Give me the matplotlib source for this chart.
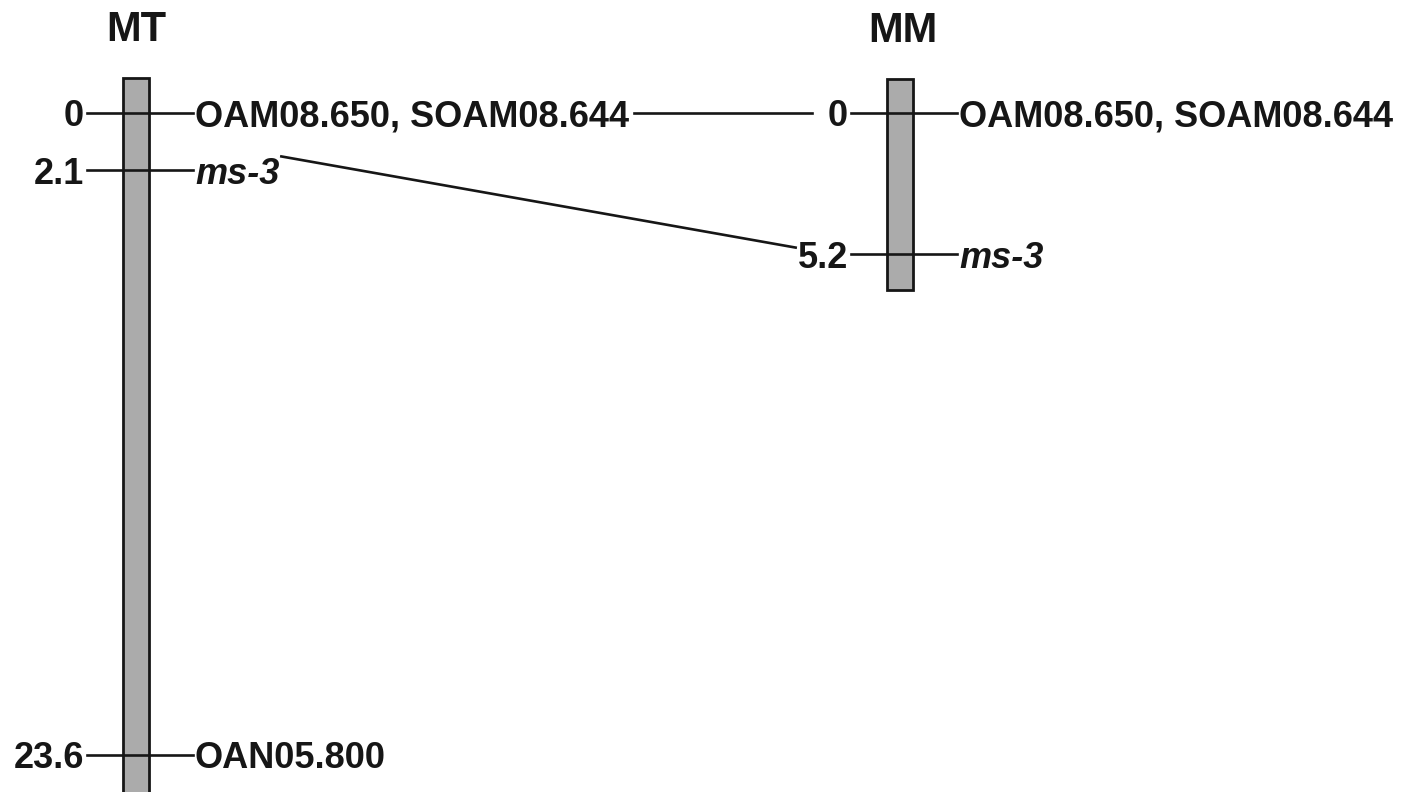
import matplotlib
matplotlib.use("Agg")
import matplotlib.pyplot as plt
from matplotlib.patches import Rectangle

plt.rcParams['font.family'] = ['Liberation Sans', 'DejaVu Sans']

# linkage groups
maps = ['MT', 'MM']
map_x = [136, 900]                 # layout position of each bar
map_start = [-1.3, -1.25]          # cM, bar top
map_end = [25.5, 6.5]              # cM, bar bottom (MT runs off the page)

# markers per map
mt_pos = [0, 2.1, 23.6]
mt_pos_lbl = ['0', '2.1', '23.6']
mt_markers = ['OAM08.650, SOAM08.644', 'ms-3', 'OAN05.800']
mt_italic = [False, True, False]

mm_pos = [0, 5.2]
mm_pos_lbl = ['0', '5.2']
mm_markers = ['OAM08.650, SOAM08.644', 'ms-3']
mm_italic = [False, True]

FS = 26
INK = '#161616'
fig = plt.figure(figsize=(14.13, 7.92), dpi=100)
ax = fig.add_axes([0, 0, 1, 1])
ax.set_xlim(0, 1413)
ax.set_ylim(24.96, -4.15)
ax.axis('off')

pos_all = [mt_pos, mm_pos]
lbl_all = [mt_pos_lbl, mm_pos_lbl]
mk_all = [mt_markers, mm_markers]
it_all = [mt_italic, mm_italic]
left_txt = {}
right_txt = {}

for i, name in enumerate(maps):
    cx = map_x[i]
    ax.add_patch(Rectangle((cx - 13, map_start[i]), 26, map_end[i] - map_start[i],
                           facecolor='#ababab', edgecolor=INK, lw=2.0, zorder=2))
    ax.text(cx + 3 * i, map_start[i] - 1.75, name, ha='center', va='center',
            fontsize=30, fontweight='bold', color=INK)
    for p, pl, mk, it in zip(pos_all[i], lbl_all[i], mk_all[i], it_all[i]):
        ax.plot([cx - 49, cx + 57], [p, p], color=INK, lw=1.9, zorder=3)
        left_txt[(i, pl)] = ax.text(cx - 52, p, pl, ha='right', va='center_baseline',
                                    fontsize=FS, fontweight='bold', color=INK)
        right_txt[(i, mk)] = ax.text(cx + 59, p, mk, ha='left', va='center_baseline',
                                     fontsize=FS, fontweight='bold', color=INK,
                                     fontstyle='italic' if it else 'normal')

# connectors between shared markers
fig.canvas.draw()
inv = ax.transData.inverted()


def ext(t):
    bb = t.get_window_extent()
    (x0, _), (x1, _) = inv.transform([(bb.x0, bb.y0), (bb.x1, bb.y1)])
    return x0, x1


# OAM08.650 line (horizontal at 0)
x_start = ext(right_txt[(0, mt_markers[0])])[1] + 5
x_stop = ext(left_txt[(1, '0')])[0] - 16
ax.plot([x_start, x_stop], [0, 0], color=INK, lw=1.9)

# ms-3 line
x_start = ext(right_txt[(0, 'ms-3')])[1] + 2
x_stop = ext(left_txt[(1, '5.2')])[0] - 2
ax.plot([x_start, x_stop], [mt_pos[1] - 0.5, mm_pos[1] - 0.25], color=INK, lw=1.9)

fig.savefig('out.png', dpi=100, facecolor='white')
